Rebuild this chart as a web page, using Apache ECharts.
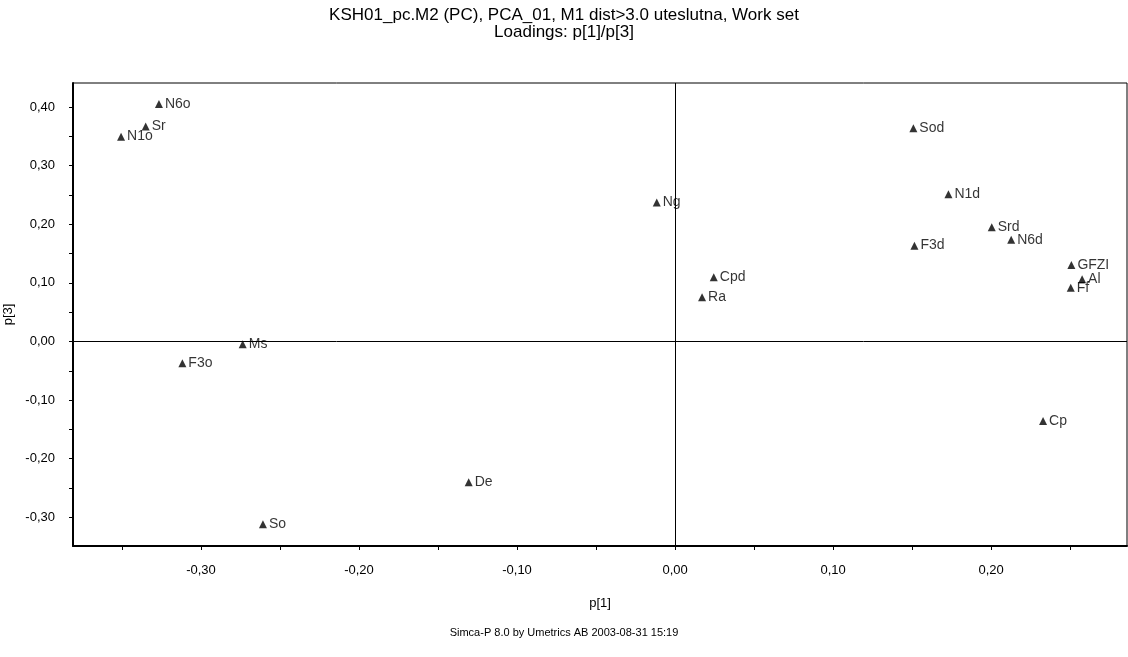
<!DOCTYPE html>
<html>
<head>
<meta charset="utf-8">
<script src="https://cdn.jsdelivr.net/npm/echarts@6/dist/echarts.min.js"></script>
<style>html,body{margin:0;padding:0;background:#fff}#c{width:1128px;height:657px}</style>
</head>
<body>
<div id="c"></div>
<script>
const names = ['N6o','Sr','N1o','Sod','N1d','Srd','N6d','F3d','GFZI','Al','Ff','Ms','F3o','Ng','Cpd','Ra','De','So','Cp'];
const p1 = [-0.3266,-0.335,-0.3506,0.1508,0.173,0.2004,0.2127,0.1515,0.2508,0.2576,0.2504,-0.2736,-0.3118,-0.0116,0.0245,0.0171,-0.1306,-0.2608,0.2329];
const p3 = [0.405,0.3666,0.3495,0.3638,0.2512,0.1949,0.1737,0.1635,0.1305,0.1061,0.0918,-0.0048,-0.0372,0.2369,0.1096,0.0754,-0.2403,-0.312,-0.1357];
const xTickLabels = [-0.30,-0.20,-0.10,0.00,0.10,0.20];
const xTicks = [-0.35,-0.30,-0.25,-0.20,-0.15,-0.10,-0.05,0.00,0.05,0.10,0.15,0.20,0.25];
const yTickLabels = [-0.30,-0.20,-0.10,0.00,0.10,0.20,0.30,0.40];
const yTicks = [-0.30,-0.25,-0.20,-0.15,-0.10,-0.05,0.00,0.05,0.10,0.15,0.20,0.25,0.30,0.35,0.40];

const font = 'Liberation Sans, Arial, sans-serif';
const fmt = v => v.toFixed(2).replace('.', ',').replace('-0,00','0,00');
const data = names.map((n,i)=>({name:n, value:[p1[i], p3[i]]}));

const chart = echarts.init(document.getElementById('c'), null, {renderer:'canvas'});
chart.setOption({
  animation:false,
  backgroundColor:'#fff',
  textStyle:{fontFamily:font},
  title:[{
    text:'KSH01_pc.M2 (PC), PCA_01, M1 dist>3.0 uteslutna, Work set',
    subtext:'Loadings: p[1]/p[3]',
    left:'center', top:2, itemGap:0,
    textStyle:{fontFamily:font,fontSize:17,fontWeight:'normal',color:'#000',lineHeight:17},
    subtextStyle:{fontFamily:font,fontSize:17,color:'#000',lineHeight:17}
  },{
    text:'Simca-P 8.0 by Umetrics AB 2003-08-31 15:19',
    left:'center', top:622,
    textStyle:{fontFamily:font,fontSize:11,fontWeight:'normal',color:'#000'}
  }],
  grid:{left:73,right:1,top:83,bottom:111,show:true,borderColor:'#000',borderWidth:1,outerBoundsMode:'none',containLabel:false},
  xAxis:{
    type:'value', min:-0.381, max:0.286,
    name:'p[1]', nameLocation:'middle', nameGap:51,
    nameTextStyle:{fontFamily:font,fontSize:13,color:'#000'},
    axisLine:{show:true,onZero:false,lineStyle:{color:'#000',width:2}},
    axisTick:{show:true,length:4,customValues:xTicks,lineStyle:{color:'#000'}},
    axisLabel:{customValues:xTickLabels,formatter:fmt,margin:18,fontSize:13,color:'#000',fontFamily:font},
    splitLine:{show:false}
  },
  yAxis:{
    type:'value', min:-0.349, max:0.441,
    name:'p[3]', nameLocation:'middle', nameGap:58,
    nameTextStyle:{fontFamily:font,fontSize:13,color:'#000'},
    axisLine:{show:true,onZero:false,lineStyle:{color:'#000',width:2}},
    axisTick:{show:true,length:4,customValues:yTicks,lineStyle:{color:'#000'}},
    axisLabel:{customValues:yTickLabels,formatter:fmt,margin:18,fontSize:13,color:'#000',fontFamily:font},
    splitLine:{show:false}
  },
  series:[{
    type:'scatter',
    symbol:'triangle',
    symbolSize:8,
    itemStyle:{color:'#000'},
    label:{show:true,position:'right',distance:2,formatter:p=>p.name,fontSize:14,color:'#000',fontFamily:font},
    data:data,
    markLine:{
      silent:true, symbol:'none', animation:false,
      label:{show:false},
      lineStyle:{color:'#000',width:1,type:'solid'},
      data:[{xAxis:0},{yAxis:0}]
    }
  }]
});
</script>
</body>
</html>
